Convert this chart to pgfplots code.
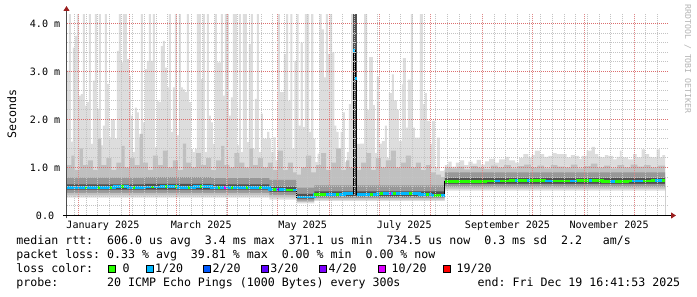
\documentclass[border=0pt]{standalone}
\usepackage{fontspec}
\usepackage{pgfplots}
\pgfplotsset{compat=1.18}
\usepackage{pgfplotstable}
\usetikzlibrary{arrows.meta}
\newfontfamily\monofont{DejaVu Sans Mono}
\newcommand\axisfont{\monofont\fontsize{10.1bp}{12bp}\selectfont}
\newcommand\legfont{\monofont\fontsize{11.6bp}{14bp}\selectfont\frenchspacing}
\newcommand\wmfont{\monofont\fontsize{8.2bp}{10bp}\selectfont}
\definecolor{smokeA}{HTML}{DDDDDD}
\definecolor{smokeB}{HTML}{C0C0C0}
\definecolor{smokeC}{HTML}{989898}
\definecolor{smokeD}{HTML}{505050}
\definecolor{mgrid}{HTML}{E08888}
\definecolor{mgridh}{HTML}{DC6E6E}
\definecolor{sgrid}{HTML}{C4C4C4}
\definecolor{arrowred}{HTML}{9A1E1E}
\definecolor{loss0}{HTML}{26FF00}
\definecolor{loss1}{HTML}{00B8FF}
\definecolor{loss2}{HTML}{0059FF}
\definecolor{loss3}{HTML}{5E00FF}
\definecolor{loss4}{HTML}{7E00FF}
\definecolor{loss10}{HTML}{DD00FF}
\definecolor{loss19}{HTML}{FF0000}

% max ping (light smoke), days since 2025-01-01
\pgfplotstableread{
x y
-6.6 3.02
-5.4 4.3
-4.2 1.54
-3.0 3.50
-1.8 3.74
-0.6 4.3
0.6 2.50
1.8 2.53
3.0 4.3
4.2 2.29
5.4 2.36
6.6 4.3
7.8 1.49
9.0 2.81
10.2 4.3
11.4 2.22
12.6 4.3
13.8 1.46
15.0 1.87
16.2 4.3
17.4 2.74
18.6 1.63
19.8 2.01
21.0 2.01
22.2 1.60
23.4 3.43
24.6 4.3
25.8 3.19
27.0 4.3
28.2 4.3
29.4 3.26
30.6 2.91
31.8 2.08
33.0 1.32
34.2 2.25
35.4 2.15
36.6 1.63
37.8 4.3
39.0 1.94
40.2 3.05
41.4 3.22
42.6 4.3
43.8 3.22
45.0 4.3
46.2 1.42
47.4 2.39
48.6 2.36
49.8 3.53
51.0 3.64
52.2 3.08
53.4 2.67
54.6 4.3
55.8 1.74
57.0 2.67
58.2 4.3
59.4 1.67
60.6 4.3
61.8 2.67
63.0 2.63
64.2 2.57
65.4 4.3
66.6 2.36
67.8 1.39
69.0 1.32
70.2 1.39
71.4 4.3
72.6 4.3
73.8 2.84
75.0 4.3
76.2 1.32
77.4 4.3
78.6 2.08
79.8 1.94
81.0 1.49
82.2 4.3
83.4 3.19
84.6 3.19
85.8 4.3
87.0 2.50
88.2 4.3
89.4 4.3
90.6 2.08
91.8 2.46
93.0 4.3
94.2 4.3
95.4 1.46
96.6 4.3
97.8 1.32
99.0 4.3
100.2 4.3
101.4 1.53
102.6 3.57
103.8 4.3
105.0 1.39
106.2 2.43
107.4 4.3
108.6 1.32
109.86 2.12
111.12 1.60
112.38 1.60
113.64 1.74
114.9 1.60
116.16 1.32
117.42 1.63
118.68 1.15
119.94 4.3
121.2 2.57
122.46 2.57
123.72 3.36
124.98 4.3
126.24 2.39
127.5 4.3
128.76 1.39
130.02 3.22
131.28 4.3
132.54 1.87
133.8 3.60
135.06 1.84
136.32 4.3
137.58 4.3
138.84 1.74
140.1 4.3
141.36 1.60
142.62 1.11
143.88 1.29
145.14 4.3
146.4 3.88
147.66 2.88
148.92 4.3
150.18 3.36
151.44 4.3
152.7 3.40
153.96 1.87
155.22 1.74
156.48 1.32
157.74 1.74
159.0 2.15
160.26 1.11
161.52 1.32
162.78 2.32
164.04 4.3
165.3 4.3
166.4 4.3
167.5 1.49
169.4 1.50
171.8 4.3
173.6 2.20
174.8 3.30
177.2 2.30
178.4 1.30
179.6 2.90
180.8 1.50
182.6 1.55
184.4 1.87
185.6 1.20
186.8 2.55
188.6 2.94
189.8 2.40
191.6 2.20
192.8 1.55
194.6 2.73
195.2 3.28
197.0 1.83
198.2 2.83
200.0 4.3
201.2 1.83
202.4 1.62
205.4 4.3
207.2 2.32
208.4 2.55
209.6 1.97
211.4 1.49
212.6 1.97
214.4 1.00
215.6 1.62
217.4 0.93
219.8 0.95
220.4 1.05
222.5 1.12
224.5 1.02
227.0 1.10
229.5 1.15
232.0 1.05
234.5 1.12
237.0 1.08
239.5 1.16
242.0 1.06
244.5 1.13
247.0 1.18
250.5 1.10
253.0 1.17
256.5 1.22
259.0 1.15
262.5 1.10
265.0 1.20
267.5 1.28
270.5 1.21
272.5 1.26
274.5 1.35
277.5 1.28
280.0 1.22
282.5 1.24
285.0 1.30
287.5 1.28
290.5 1.28
293.5 1.21
296.0 1.26
298.5 1.24
301.0 1.18
302.5 1.24
305.5 1.35
308.5 1.43
310.5 1.28
312.5 1.22
314.5 1.21
316.5 1.26
318.5 1.24
321.5 1.17
323.5 1.22
325.5 1.35
326.5 1.21
330.5 1.17
333.5 1.28
335.5 1.21
338.5 1.38
340.5 1.28
343.0 1.22
344.5 1.21
347.5 1.38
349.5 1.21
351.0 1.26
352.6 1.26
}\maxdata

% upper edge of medium smoke
\pgfplotstableread{
x y
-6.6 1.05
-4 1.25
-2 0.95
1 1.40
3 1.05
6 1.15
9 0.95
12 1.60
14 1.05
17 1.20
20 0.95
23 1.10
26 1.45
28 1.00
31 1.20
34 1.05
37 1.70
39 1.10
42 0.95
45 1.25
48 1.05
51 1.35
54 1.00
57 1.15
60 0.95
63 1.50
65 1.10
68 1.00
71 1.30
74 1.05
77 1.20
80 0.95
83 1.15
86 1.45
88 1.05
91 1.00
94 1.30
97 1.10
100 1.00
103 1.40
105 1.05
108 1.20
111 1.00
114 1.10
117 0.95
120 1.35
123 0.95
126 1.10
129 0.90
131.3 0.85
134 1.00
137 1.25
140 0.90
143 1.05
146 1.30
149 0.95
152 1.10
155 1.40
158 0.95
161 1.15
163 1.00
165.3 4.3
167.5 0.95
170 1.10
173 1.30
176 0.95
179 1.20
182 1.00
185 1.15
188 1.35
191 1.00
194 1.10
197 1.25
200 1.00
203 1.10
206 0.95
209 1.05
212 0.90
215 0.85
218 0.80
220.4 1.00
224 0.98
228 1.02
232 0.96
236 1.03
240 1.00
244 0.97
248 1.04
252 1.00
256 1.05
260 0.98
264 1.03
268 1.06
272 1.00
276 1.04
280 0.98
284 1.05
288 1.02
292 1.00
296 1.06
300 0.98
304 1.03
308 1.08
312 1.00
316 1.04
320 0.98
324 1.05
328 1.00
332 1.06
336 1.02
340 1.05
344 1.00
348 1.04
352.6 1.04
}\midsmoke

% upper edges of dark smoke (c) and darkest smoke (d); lower edges la..ld
\pgfplotstableread{
x c d la lb lc ld
-6.6 0.79 0.65 0.54 0.47 0.42 0.37
40 0.80 0.66 0.54 0.47 0.42 0.37
80 0.78 0.65 0.54 0.47 0.42 0.37
115 0.74 0.60 0.49 0.43 0.38 0.33
131.3 0.58 0.45 0.35 0.31 0.28 0.25
142 0.63 0.50 0.40 0.36 0.33 0.30
165.3 4.3 4.3 0.40 0.36 0.33 0.30
167.5 0.63 0.50 0.40 0.36 0.33 0.30
220.4 0.90 0.78 0.66 0.60 0.56 0.52
352.6 0.90 0.78 0.66 0.60 0.56 0.52
}\bands

% median rtt (ms)
\pgfplotstableread{
x y
-6.6 0.585
2 0.59
8 0.575
14 0.59
22 0.60
30 0.58
40 0.595
50 0.605
60 0.59
70 0.60
80 0.585
95 0.59
108 0.58
115 0.54
124 0.53
131.3 0.385
142 0.44
150 0.445
160 0.45
165.3 3.44
166.4 2.86
167.5 0.44
180 0.45
195 0.45
205 0.43
212 0.42
220.4 0.70
230 0.71
245 0.72
260 0.73
280 0.72
300 0.73
315 0.71
330 0.72
345 0.73
352.6 0.73
}\median

\pgfplotstableread{
x y
-6.6 0.585
2 0.59
8 0.575
14 0.59
22 0.60
30 0.58
40 0.595
50 0.605
60 0.59
70 0.60
80 0.585
95 0.59
108 0.58
115 0.54
124 0.53
131.3 0.53
131.3 nan
131.3 0.385
142 0.44
150 0.445
160 0.45
165.3 0.45
165.3 nan
165.3 3.44
166.4 3.44
166.4 nan
166.4 2.86
167.5 2.86
167.5 nan
167.5 0.44
180 0.45
195 0.45
205 0.43
212 0.42
220.4 0.42
}\medblue

\pgfplotstableread{
x y
220.4 0.70
230 0.71
245 0.72
260 0.73
280 0.72
300 0.73
315 0.71
330 0.72
345 0.73
352.6 0.73
}\medgreen

\pgfplotstableread{
x y
4.5 0.59
5.7 0.59
5.7 nan
12 0.575
13.4 0.575
13.4 nan
19 0.59
20.2 0.59
20.2 nan
26 0.60
27.4 0.60
27.4 nan
33 0.58
34.2 0.58
34.2 nan
44 0.595
45.4 0.595
45.4 nan
52 0.605
53.2 0.605
53.2 nan
58 0.605
59.2 0.605
59.2 nan
66 0.59
67.4 0.59
67.4 nan
73 0.60
74.2 0.60
74.2 nan
84 0.585
85.4 0.585
85.4 nan
92 0.585
93.2 0.585
93.2 nan
101 0.59
102.4 0.59
102.4 nan
109 0.58
110.4 0.58
110.4 nan
117 0.54
119 0.54
119 nan
125 0.53
129 0.53
129 nan
142 0.44
149 0.44
149 nan
155 0.445
156.5 0.445
156.5 nan
175.5 0.44
177 0.44
177 nan
181 0.45
183 0.45
183 nan
189 0.45
191 0.45
191 nan
199 0.45
200.5 0.45
200.5 nan
209 0.43
211 0.43
211 nan
214 0.42
218 0.42
}\greenseg

\pgfplotstableread{
x y
250.5 0.72
253.5 0.72
253.5 nan
262.5 0.73
264 0.73
264 nan
269.5 0.73
271.5 0.73
271.5 nan
280.5 0.72
285.5 0.72
285.5 nan
295.5 0.72
299.5 0.72
299.5 nan
307 0.73
309 0.73
309 nan
319.5 0.71
322.5 0.71
322.5 nan
332.7 0.72
339.3 0.72
339.3 nan
346.5 0.73
350.7 0.73
}\blueseg

\begin{document}
\begin{tikzpicture}
\fill[white] (0,0) rectangle (697bp,297bp);
\useasboundingbox (0,0) rectangle (697bp,297bp);
\begin{axis}[
  at={(67bp,81.5bp)}, anchor=south west,
  scale only axis, width=601bp, height=201.5bp,
  xmin=-6.6, xmax=354.4, ymin=0, ymax=4.198,
  axis on top,
  axis line style={draw=none},
  unbounded coords=jump,
  major tick length=0pt, minor tick length=0pt,
  xtick={0.308,30.942,59.173,89.806,119.84,151.075,181.108,211.742,242.976,273.01,304.245,334.278},
  xticklabels={},
  minor xtick={-2,5,...,348},
  extra x ticks={15,74,135,196,258,319},
  extra x tick labels={January 2025,March 2025,May 2025,July 2025,September 2025,November 2025},
  extra x tick style={grid=none},
  ytick={0,1,2,3,4},
  yticklabels={0.0~~,1.0 m,2.0 m,3.0 m,4.0 m},
  minor ytick={0.2,0.4,0.6,0.8,1.2,1.4,1.6,1.8,2.2,2.4,2.6,2.8,3.2,3.4,3.6,3.8},
  xmajorgrids, ymajorgrids, xminorgrids, yminorgrids,
  major grid style={mgrid, line width=1bp, dash pattern=on 1bp off 1bp},
  minor grid style={sgrid, line width=1bp, dash pattern=on 1bp off 1bp},
  xticklabel style={font=\axisfont, anchor=north, inner sep=0pt, yshift=-5.5bp},
  yticklabel style={font=\axisfont, anchor=east, inner sep=0pt, xshift=-6.5bp},
]
% upper smoke
\addplot[const plot, draw=none, fill=smokeA] table[x=x,y=y] {\maxdata} \closedcycle;
\addplot[const plot, draw=none, fill=smokeB] table[x=x,y=y] {\midsmoke} \closedcycle;
\addplot[const plot, draw=none, fill=smokeC] table[x=x,y=c] {\bands} \closedcycle;
\addplot[const plot, draw=none, fill=smokeD] table[x=x,y=d] {\bands} \closedcycle;
% lower smoke
\addplot[const plot, draw=none, fill=smokeC] table[x=x,y=la] {\bands} \closedcycle;
\addplot[const plot, draw=none, fill=smokeB] table[x=x,y=lb] {\bands} \closedcycle;
\addplot[const plot, draw=none, fill=smokeA] table[x=x,y=lc] {\bands} \closedcycle;
\addplot[const plot, draw=none, fill=white] table[x=x,y=ld] {\bands} \closedcycle;
% median
\addplot[const plot, draw=black, line width=1bp] table[x=x,y=y] {\median};
\addplot[const plot, draw=loss1, line width=2.8bp] table[x=x,y=y] {\medblue};
\addplot[const plot, draw=loss0, line width=2.8bp] table[x=x,y=y] {\medgreen};
\addplot[const plot, draw=loss0, line width=2.8bp] table[x=x,y=y] {\greenseg};
\addplot[const plot, draw=loss1, line width=2.8bp] table[x=x,y=y] {\blueseg};
\addplot[const plot, draw=loss10, line width=2.8bp] coordinates {(88,0.585) (89,0.585)};
\addplot[const plot, draw=loss4, line width=2.8bp] coordinates {(119.5,0.54) (120.5,0.54)};
\addplot[const plot, draw=loss10, line width=2.8bp] coordinates {(187,0.45) (188,0.45)};
\end{axis}
% horizontal major grid lines (red dotted) at 1, 2, 3, 4 ms
\foreach \gy in {129.5,177.5,225.5,273.5}
  \draw[mgridh, line width=1bp, dash pattern=on 1bp off 1bp] (67bp,\gy bp) -- (668bp,\gy bp);
% axis lines with arrows
\draw[line width=1bp, black!70, -{Triangle[length=5bp,width=6bp,color=arrowred]}] (66.5bp,78.5bp) -- (66.5bp,291bp);
\draw[line width=1bp, black, -{Triangle[length=5bp,width=6bp,color=arrowred]}] (63bp,81.5bp) -- (676bp,81.5bp);
% labels
\node[rotate=90, font=\legfont, inner sep=0pt] at (11.7bp,183bp) {Seconds};
\node[rotate=-90, font=\wmfont, text={rgb,255:red,180;green,180;blue,180}, inner sep=0pt] at (687.7bp,238bp) {RRDTOOL / TOBI OETIKER};
\node[anchor=base west, inner sep=0pt, font=\legfont] at (16.2bp,52.7bp) {median rtt:~~606.0~us~avg~~3.4~ms~max~~371.1~us~min~~734.5~us~now~~0.3~ms~sd~~2.2~~~am/s};
\node[anchor=base west, inner sep=0pt, font=\legfont] at (16.2bp,38.5bp) {packet loss:~0.33~\%~avg~~39.81~\%~max~~0.00~\%~min~~0.00~\%~now};
\node[anchor=base west, inner sep=0pt, font=\legfont] at (16.2bp,24.3bp) {loss color:};
\node[anchor=base west, inner sep=0pt, font=\legfont] at (16.2bp,10.1bp) {probe:~~~~~~~20~ICMP~Echo~Pings~(1000~Bytes)~every~300s};
\node[anchor=base west, inner sep=0pt, font=\legfont] at (477.5bp,10.1bp) {end:~Fri~Dec~19~16:41:53~2025};
% loss colour legend
\draw[black, line width=1bp, fill=loss0] (108.8bp,24.8bp) rectangle (115.8bp,31.8bp);
\node[anchor=base west, inner sep=0pt, font=\legfont] at (122.3bp,24.3bp) {0};
\draw[black, line width=1bp, fill=loss1] (146.2bp,24.8bp) rectangle (153.2bp,31.8bp);
\node[anchor=base west, inner sep=0pt, font=\legfont] at (155bp,24.3bp) {1/20};
\draw[black, line width=1bp, fill=loss2] (203.8bp,24.8bp) rectangle (210.8bp,31.8bp);
\node[anchor=base west, inner sep=0pt, font=\legfont] at (212.5bp,24.3bp) {2/20};
\draw[black, line width=1bp, fill=loss3] (261.5bp,24.8bp) rectangle (268.5bp,31.8bp);
\node[anchor=base west, inner sep=0pt, font=\legfont] at (270.2bp,24.3bp) {3/20};
\draw[black, line width=1bp, fill=loss4] (319.8bp,24.8bp) rectangle (326.8bp,31.8bp);
\node[anchor=base west, inner sep=0pt, font=\legfont] at (328.5bp,24.3bp) {4/20};
\draw[black, line width=1bp, fill=loss10] (378.2bp,24.8bp) rectangle (385.2bp,31.8bp);
\node[anchor=base west, inner sep=0pt, font=\legfont] at (391.5bp,24.3bp) {10/20};
\draw[black, line width=1bp, fill=loss19] (443.2bp,24.8bp) rectangle (450.2bp,31.8bp);
\node[anchor=base west, inner sep=0pt, font=\legfont] at (456.5bp,24.3bp) {19/20};
\end{tikzpicture}
\end{document}
